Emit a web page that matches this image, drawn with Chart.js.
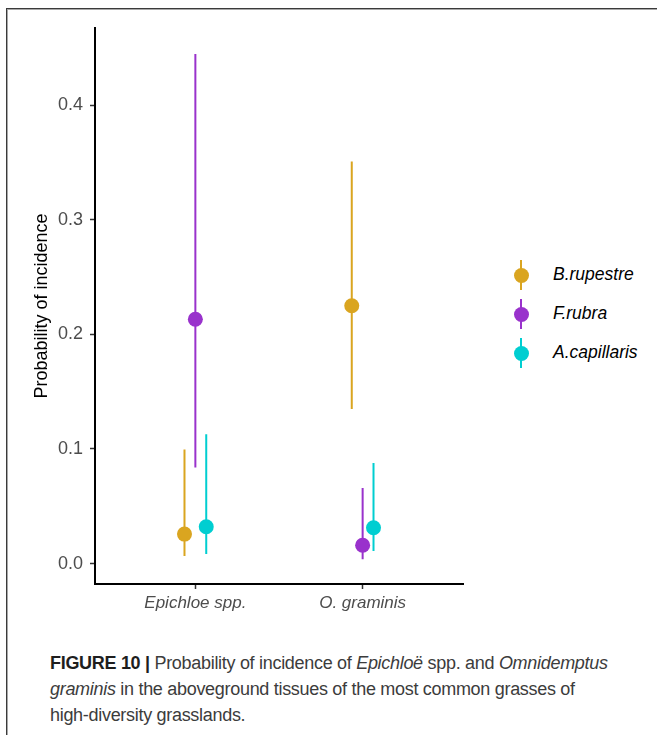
<!DOCTYPE html>
<html>
<head>
<meta charset="utf-8">
<script src="https://cdn.jsdelivr.net/npm/chart.js@4"></script>
<style>
    html, body { margin: 0; padding: 0; background: #fff; }
    body { width: 657px; height: 735px; position: relative; overflow: hidden; font-family: "Liberation Sans", Arial, sans-serif; }
    #frame {
        position: absolute; left: 6px; top: 8px; width: 660px; height: 740px;
        border-left: 1px solid #3a3a3a; border-top: 1px solid #3a3a3a;
        box-shadow: inset 1px 1px 0 #a8a8a8;
    }
    #plot { position: absolute; left: 0; top: 0; }
    .leg { position: absolute; left: 0; height: 0; }
    .leg .bar { position: absolute; left: 520px; top: -15px; width: 2px; height: 30px; }
    .leg .dot { position: absolute; left: 513.5px; top: -7.5px; width: 15px; height: 15px; border-radius: 50%; }
    .leg .txt { position: absolute; left: 553px; top: -11px; font-size: 17.5px; font-style: italic; color: #000; white-space: nowrap; line-height: 21px; }
    #caption {
        position: absolute; left: 50px; top: 650px; width: 600px;
        font-size: 18px; line-height: 26px; color: #3c3c3c; letter-spacing: -0.3px; white-space: nowrap;
    }
    #caption b { color: #1e1e1e; }
</style>
</head>
<body>
<div id="frame"></div>
<canvas id="plot" width="480" height="625"></canvas>
<div id="legend"></div>
<div id="caption"><b>FIGURE 10 |</b> Probability of incidence of <i>Epichloë</i> spp. and <i>Omnidemptus</i><br><i>graminis</i> in the aboveground tissues of the most common grasses of<br>high-diversity grasslands.</div>

<script>
// fungal taxa on the x axis, grass species as dodged series
var categorias = ['Epichloe spp.', 'O. graminis'];
var especies = ['B.rupestre', 'F.rubra', 'A.capillaris'];
var cores = ['#DAA520', '#9932CC', '#00CED1'];

// estimated probability and interval per species, one value per category
var estimativa = [
    [0.0257, 0.2250],   // B.rupestre
    [0.2131, 0.0159],   // F.rubra
    [0.0321, 0.0312]    // A.capillaris
];
var limiteInferior = [
    [0.0065, 0.1349],
    [0.0838, 0.0037],
    [0.0083, 0.0109]
];
var limiteSuperior = [
    [0.0995, 0.3508],
    [0.4446, 0.0658],
    [0.1129, 0.0878]
];
var ticksY = [0, 0.1, 0.2, 0.3, 0.4];

var deslocamento = [-0.065, 0, 0.065];

var datasets = [];
especies.forEach(function (nome, i) {
    // vertical interval segments, separated by a gap point
    var segs = [];
    categorias.forEach(function (c, j) {
        var x = j + deslocamento[i];
        segs.push({ x: x, y: limiteInferior[i][j] });
        segs.push({ x: x, y: limiteSuperior[i][j] });
        segs.push({ x: x, y: null });
    });
    datasets.push({
        label: nome + ' IC',
        data: segs,
        showLine: true,
        spanGaps: false,
        borderColor: cores[i],
        borderWidth: 2,
        pointRadius: 0,
        order: 2
    });
    datasets.push({
        label: nome,
        data: categorias.map(function (c, j) {
            return { x: j + deslocamento[i], y: estimativa[i][j] };
        }),
        backgroundColor: cores[i],
        pointRadius: 7.5,
        pointBorderWidth: 0,
        order: 1
    });
});

var ctx = document.getElementById('plot').getContext('2d');
var grafico = new Chart(ctx, {
    type: 'scatter',
    data: { datasets: datasets },
    options: {
        responsive: false,
        animation: false,
        layout: { padding: { top: 28, right: 17, left: 0, bottom: 0 } },
        plugins: {
            legend: { display: false },
            tooltip: { enabled: false }
        },
        scales: {
            x: {
                type: 'linear',
                min: -0.6,
                max: 1.6,
                afterFit: function (s) { s.height = 41; },
                afterBuildTicks: function (s) { s.ticks = categorias.map(function (c, j) { return { value: j }; }); },
                border: { display: true, color: '#000', width: 2 },
                grid: { drawOnChartArea: false, drawTicks: true, tickLength: 5, tickColor: '#333', tickWidth: 1.5 },
                ticks: {
                    padding: 4,
                    color: '#4d4d4d',
                    font: { family: 'Liberation Sans', size: 17, style: 'italic' },
                    callback: function (v) { return categorias[Math.round(v)]; }
                }
            },
            y: {
                min: -0.01786,
                max: 0.4673,
                afterFit: function (s) { s.width = 95; },
                afterBuildTicks: function (s) { s.ticks = ticksY.map(function (v) { return { value: v }; }); },
                border: { display: true, color: '#000', width: 2 },
                grid: { drawOnChartArea: false, drawTicks: true, tickLength: 5, tickColor: '#333', tickWidth: 1.5 },
                ticks: {
                    padding: 7,
                    color: '#4d4d4d',
                    font: { family: 'Liberation Sans', size: 18 },
                    callback: function (v) { return v.toFixed(1); }
                },
                title: {
                    display: true,
                    text: 'Probability of incidence',
                    color: '#000',
                    font: { family: 'Liberation Sans', size: 18 },
                    padding: { top: 31, bottom: 0 }
                }
            }
        }
    }
});

// legend: point with vertical interval, built next to the plot
var legenda = document.getElementById('legend');
var posY = [275, 314, 353];
especies.forEach(function (nome, i) {
    var item = document.createElement('div');
    item.className = 'leg';
    item.style.top = posY[i] + 'px';
    item.innerHTML = '<div class="bar" style="background:' + cores[i] + '"></div>' +
        '<div class="dot" style="background:' + cores[i] + '"></div>' +
        '<div class="txt">' + nome + '</div>';
    legenda.appendChild(item);
});
</script>
</body>
</html>
